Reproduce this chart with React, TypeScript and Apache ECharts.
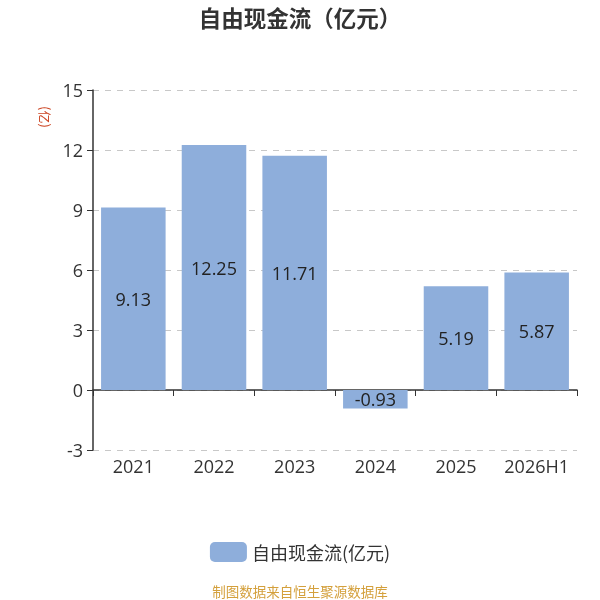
import React, { useEffect, useRef } from "react";
import * as echarts from "echarts";

const categories = ["2021", "2022", "2023", "2024", "2025", "2026H1"];
const values = [9.13, 12.25, 11.71, -0.93, 5.19, 5.87];
const seriesName = "自由现金流(亿元)";
const titleText = "自由现金流（亿元）";
const unitText = "(亿)";
const footerText = "制图数据来自恒生聚源数据库";

const FONT = "'Open Sans', 'Noto Sans CJK SC', sans-serif";
const CJK = "'Noto Sans CJK SC', 'Open Sans', sans-serif";

export default function App() {
  const ref = useRef<HTMLDivElement>(null);
  useEffect(() => {
    if (!ref.current) return;
    const chart = echarts.init(ref.current, null, { renderer: "svg" });
    chart.setOption({
      animation: false,
      textStyle: { fontFamily: FONT },
      title: {
        text: titleText,
        left: "center",
        top: 1,
        textStyle: { fontSize: 22.5, fontWeight: "bold", color: "#333", fontFamily: CJK },
      },
      grid: { left: 93, right: 23, top: 90, bottom: 150 },
      legend: {
        top: 537,
        left: "center",
        itemWidth: 37,
        itemHeight: 20,
        itemGap: 10,
        itemStyle: { borderRadius: 4 },
        textStyle: { fontSize: 18, color: "#333", fontFamily: CJK },
        data: [seriesName],
      },
      xAxis: {
        type: "category",
        data: categories,
        axisLine: { onZero: true, lineStyle: { color: "#333", width: 1.5 } },
        axisTick: { show: true, interval: 0, alignWithLabel: false, length: 6, lineStyle: { color: "#333" } },
        axisLabel: { interval: 0, fontSize: 18, color: "#333", margin: 7, fontFamily: FONT },
      },
      yAxis: {
        type: "value",
        min: -3,
        max: 15,
        interval: 3,
        axisLine: { show: true, lineStyle: { color: "#333", width: 1.5 } },
        axisTick: { show: true, length: 6, lineStyle: { color: "#333" } },
        axisLabel: { fontSize: 18, color: "#333", margin: 10, fontFamily: FONT },
        splitLine: { show: true, lineStyle: { type: [6, 6], color: "#c8c8c8" } },
      },
      graphic: [
        {
          type: "text",
          x: 45,
          y: 117,
          rotation: -Math.PI / 2,
          style: {
            text: unitText,
            fill: "#cc4422",
            fontSize: 13,
            fontFamily: CJK,
            align: "center",
            verticalAlign: "middle",
          },
        },
        {
          type: "text",
          left: "center",
          top: 584,
          style: {
            text: footerText,
            fill: "#d4a03c",
            fontSize: 13.5,
            fontFamily: CJK,
          },
        },
      ],
      series: [
        {
          name: seriesName,
          type: "bar",
          data: values,
          barWidth: "80%",
          itemStyle: { color: "#8eaedb" },
          label: {
            show: true,
            position: "inside",
            fontSize: 18,
            color: "#222",
            fontFamily: FONT,
            formatter: (p: any) => p.value.toFixed(2),
          },
        },
      ],
    });
    return () => chart.dispose();
  }, []);
  return (
    <div
      ref={ref}
      style={{ width: 600, height: 600, position: "fixed", left: 0, top: 0 }}
    />
  );
}
